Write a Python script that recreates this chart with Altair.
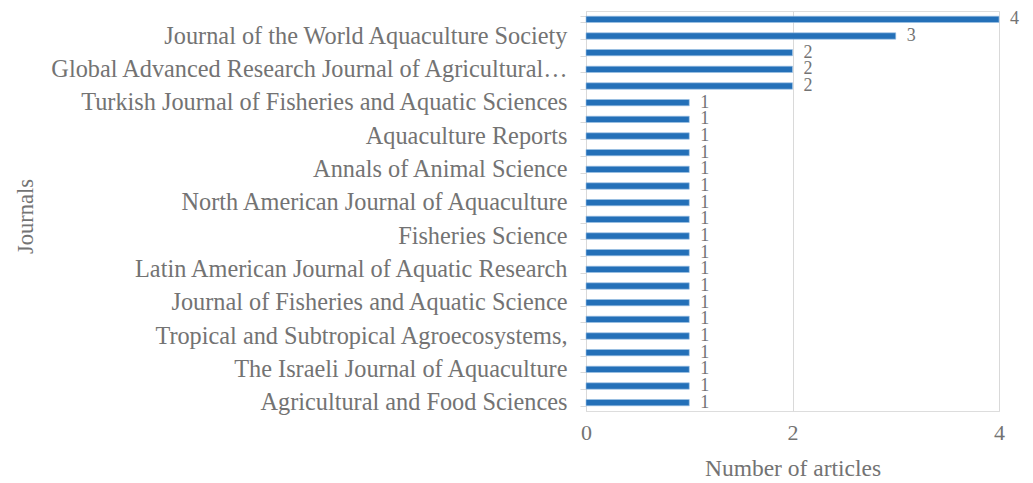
import altair as alt
import pandas as pd

# 24 journals, top to bottom; only every second label is shown in the reference
journals = [
    "", "Journal of the World Aquaculture Society",
    "", "Global Advanced Research Journal of Agricultural…",
    "", "Turkish Journal of Fisheries and Aquatic Sciences",
    "", "Aquaculture Reports",
    "", "Annals of Animal Science",
    "", "North American Journal of Aquaculture",
    "", "Fisheries Science",
    "", "Latin American Journal of Aquatic Research",
    "", "Journal of Fisheries and Aquatic Science",
    "", "Tropical and Subtropical Agroecosystems,",
    "", "The Israeli Journal of Aquaculture",
    "", "Agricultural and Food Sciences",
]
articles = [4, 3, 2, 2, 2, 1, 1, 1, 1, 1, 1, 1, 1, 1, 1, 1, 1, 1, 1, 1, 1, 1, 1, 1]
x_ticks = [0, 2, 4]

ranks = list(range(1, len(journals) + 1))
df = pd.DataFrame({"rank": ranks, "journal": journals, "articles": articles})

label_array = "[" + ",".join("'" + j + "'" for j in journals) + "]"
label_expr = label_array + "[toNumber(datum.value) - 1]"

FONT = "Liberation Serif"
GRAY = "#737373"

base = alt.Chart(df).encode(
    y=alt.Y(
        "rank:O",
        sort="ascending",
        scale=alt.Scale(paddingInner=0.62, paddingOuter=0.31),
        axis=alt.Axis(
            title="Journals",
            labelExpr=label_expr,
            labelFont=FONT,
            labelFontSize=24.3,
            labelColor=GRAY,
            labelPadding=13,
            labelLimit=700,
            labelOverlap=False,
            tickBand="extent",
            tickSize=6,
            tickColor="#d9d9d9",
            domainColor="#d9d9d9",
            titleFont=FONT,
            titleFontSize=22.5,
            titleFontWeight="normal",
            titleColor=GRAY,
            titleAngle=-90,
            titleX=-561,
            titleY=205,
            titleAlign="center",
            titleBaseline="middle",
            grid=False,
        ),
    ),
)

bars = base.mark_bar(color="#2470B8", stroke="#9dc3e6", strokeWidth=0.6).encode(
    x=alt.X(
        "articles:Q",
        scale=alt.Scale(domain=[0, 4], nice=False),
        axis=alt.Axis(
            title="Number of articles",
            values=x_ticks,
            format="d",
            domain=False,
            ticks=False,
            grid=True,
            gridColor="#d9d9d9",
            labelFlush=False,
            labelFont=FONT,
            labelFontSize=22,
            labelColor=GRAY,
            labelPadding=11,
            titleFont=FONT,
            titleFontSize=23.5,
            titleFontWeight="normal",
            titleColor=GRAY,
            titlePadding=13,
        ),
    ),
)

text = base.mark_text(
    align="left", baseline="middle", dx=11, font=FONT, fontSize=18, color=GRAY
).encode(x="articles:Q", text="articles:Q")

chart = (
    (bars + text)
    .properties(
        width=413,
        height=400,
        autosize=alt.AutoSizeParams(type="none"),
        padding={"left": 586, "top": 11, "right": 34, "bottom": 72},
    )
    .configure_view(stroke=None)
    .configure(background="white")
)

chart.save("out.html", embed_options={"renderer": "svg", "actions": False})
